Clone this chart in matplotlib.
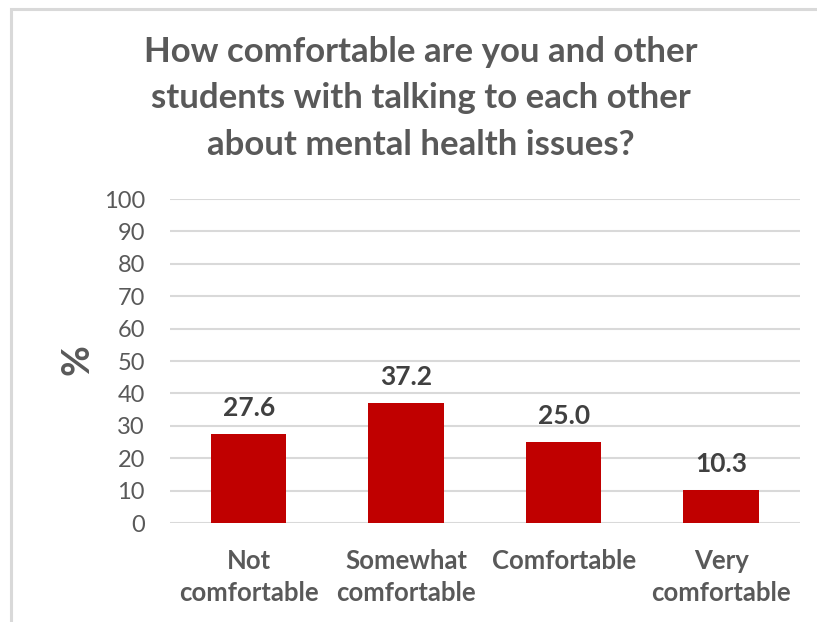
import matplotlib.pyplot as plt
import matplotlib.patches as mpatches

categories = ["Not\ncomfortable", "Somewhat\ncomfortable", "Comfortable", "Very\ncomfortable"]
percentages = [27.6, 37.2, 25.0, 10.3]
y_ticks = list(range(0, 101, 10))

title = "How comfortable are you and other\nstudents with talking to each other\nabout mental health issues?"

plt.rcParams["font.family"] = ["Lato", "DejaVu Sans"]

fig = plt.figure(figsize=(8.17, 6.22), dpi=100)
fig.patch.set_facecolor("white")

# light chart frame, open to the right and bottom
frame = mpatches.Rectangle((11 / 817, -0.1), 1.2, 1 - 9 / 622 + 0.1,
                           transform=fig.transFigure, fill=False,
                           edgecolor="#d9d9d9", linewidth=2.2)
fig.add_artist(frame)

ax = fig.add_axes([0.208, 0.159, 0.771, 0.521])
x = range(len(categories))
bars = ax.bar(x, percentages, width=0.48, color="#c00000", zorder=3)

ax.set_ylim(0, 100)
ax.set_xlim(-0.5, len(categories) - 0.5)
ax.set_yticks(y_ticks)
ax.set_yticklabels([str(t) for t in y_ticks], fontsize=17, color="#595959")
ax.set_xticks(list(x))
ax.set_xticklabels(categories, fontsize=18.5, fontweight="bold", color="#595959",
                   linespacing=1.4)
ax.tick_params(axis="both", length=0)
ax.tick_params(axis="y", pad=18)
ax.tick_params(axis="x", pad=19)
ax.grid(axis="y", color="#d9d9d9", linewidth=1.5, zorder=0)
for s in ax.spines.values():
    s.set_visible(False)

for b, v in zip(bars, percentages):
    ax.annotate(f"{v:.1f}", (b.get_x() + b.get_width() / 2, v),
                xytext=(0, 10), textcoords="offset points",
                ha="center", va="bottom", fontsize=19, fontweight="bold",
                color="#404040")

fig.text(77 / 817, 1 - 360 / 622, "%", rotation=90, ha="center", va="center",
         fontsize=27, fontweight="bold", color="#595959")

fig.text(0.515, 0.842, title, ha="center", va="center", fontsize=25,
         fontweight="bold", color="#595959", linespacing=1.55)

fig.savefig("out.png", dpi=100)
